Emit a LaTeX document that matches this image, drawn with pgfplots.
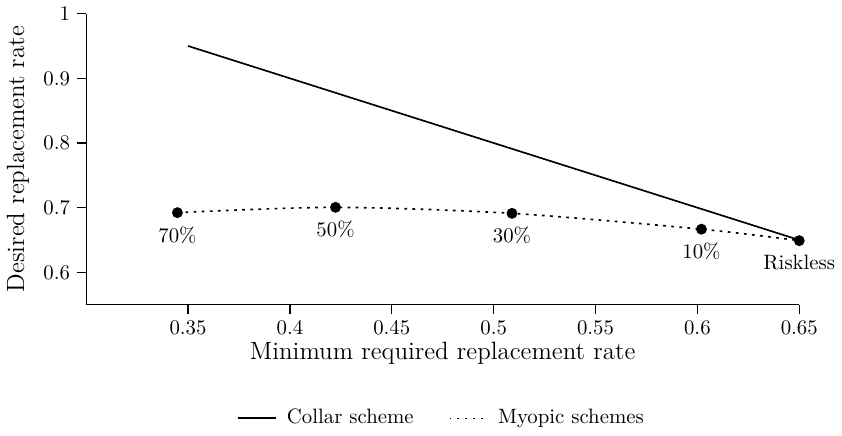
\documentclass[border=0pt]{standalone}
\usepackage{pgfplots}
\pgfplotsset{compat=1.18}
\begin{document}
\begin{tikzpicture}
\begin{axis}[
  scale only axis,
  width=343pt, height=140pt,
  xmin=0.3, xmax=0.65, ymin=0.55, ymax=1,
  axis x line*=bottom, axis y line*=left,
  axis line style={line width=0.6pt},
  tick align=outside,
  tick style={line width=0.6pt, black},
  xtick={0.35,0.4,0.45,0.5,0.55,0.6,0.65},
  ytick={0.6,0.7,0.8,0.9,1},
  xlabel={\large Minimum required replacement rate},
  ylabel={\large Desired replacement rate},
  xlabel style={yshift=3pt},
  legend style={draw=none, at={(axis description cs:0.5,-0.39)}, anchor=center, legend columns=2, font=\normalsize,
    /tikz/every odd column/.append style={column sep=3pt},
    /tikz/every even column/.append style={column sep=15pt}},
  legend image code/.code={\draw[#1] (0pt,0pt) -- (18pt,0pt);},
  legend cell align=left,
  clip=false,
]
\addplot[black, line width=0.8pt] coordinates {(0.35,0.95) (0.65,0.65)};
\addlegendentry{Collar scheme}
\addplot[black, line width=0.8pt, dash pattern=on 1.3pt off 2.6pt, smooth,
  mark=*, mark size=2.2pt, mark options={solid},
  point meta=explicit symbolic,
  nodes near coords, nodes near coords style={anchor=north, yshift=-3pt, font=\normalsize},
  legend image code/.code={\draw[black, line width=0.6pt, dash pattern=on 0.8pt off 3pt] (0pt,0pt) -- (18pt,0pt);}]
  coordinates {
  (0.3448,0.6923) [70\%]
  (0.4224,0.7005) [50\%]
  (0.5090,0.6912) [30\%]
  (0.6020,0.6667) [10\%]
  (0.6500,0.6490) [Riskless]
  };
\addlegendentry{Myopic schemes}
\end{axis}
\end{tikzpicture}
\end{document}
